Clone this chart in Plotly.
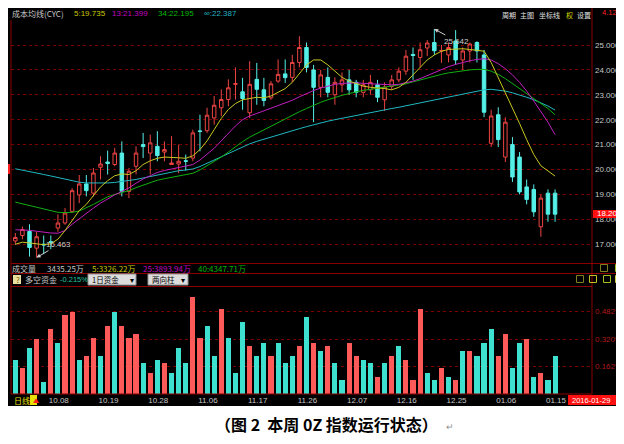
import plotly.graph_objects as go

W, H = 624, 444
def px(x): return x / W
def py(y): return 1 - y / H

# ---------------- data ----------------
idx = list(range(77))
opens = [17.13,17.35,17.51,16.84,17.00,17.10,17.65,17.85,18.32,18.98,
         19.42,19.05,20.09,20.30,20.20,20.66,19.12,20.13,21.00,20.66,
         20.93,20.70,20.20,20.22,20.35,20.46,21.55,21.56,22.07,22.48,
         22.81,23.42,23.12,22.28,23.62,23.20,22.88,23.55,23.84,23.70,
         24.30,24.90,24.00,23.30,23.70,23.00,23.40,23.60,23.50,23.10,
         23.20,23.40,22.80,23.34,23.60,23.95,24.62,24.50,24.88,25.10,
         24.76,24.60,25.16,24.40,24.76,25.10,24.60,21.05,22.20,20.50,
         21.00,20.50,19.30,19.20,17.70,19.05,19.05]
closes = [17.27,17.59,16.87,17.30,16.97,17.08,17.85,18.25,19.15,19.42,
          19.15,19.86,20.22,20.24,20.66,19.12,19.93,20.66,20.92,21.07,
          20.56,20.80,20.26,20.33,20.33,21.47,21.53,22.18,22.58,22.81,
          23.28,23.45,22.85,23.42,23.22,22.77,23.44,23.82,23.69,24.30,
          24.90,24.10,23.30,23.80,23.10,23.50,23.60,23.20,23.10,23.40,
          23.50,22.90,23.31,23.60,23.95,24.55,24.58,24.81,25.08,24.77,
          24.78,24.90,24.40,24.76,25.04,24.76,22.30,22.15,21.20,21.90,
          19.70,19.10,18.80,18.30,18.85,18.206,18.206]
highs = [17.45,17.71,17.80,17.50,17.35,17.35,18.20,18.45,19.25,19.78,
         19.78,20.06,20.53,20.76,20.87,21.13,20.06,20.93,21.47,21.40,
         21.54,21.13,21.34,21.00,20.60,21.60,22.20,22.48,22.95,23.22,
         23.62,24.10,23.68,24.35,24.28,23.68,23.55,24.42,24.42,24.60,
         25.35,25.10,24.20,24.00,24.10,23.70,23.90,24.00,23.60,23.60,
         23.80,23.60,23.50,23.80,24.10,24.80,24.90,25.10,25.20,25.642,
         25.00,25.10,25.60,24.90,25.10,25.15,24.80,22.40,22.50,22.10,
         21.30,20.70,19.60,19.40,19.00,19.20,19.20]
lows = [16.97,17.20,16.50,16.463,16.60,16.80,17.50,17.78,18.25,18.65,
        18.92,18.92,19.60,19.80,20.13,18.92,18.85,19.80,20.46,19.80,
        20.33,20.33,20.20,19.85,19.95,20.33,20.73,21.47,21.80,22.14,
        22.54,22.81,22.40,22.07,22.60,22.54,22.80,23.48,23.48,23.50,
        24.10,23.90,21.90,22.90,22.90,22.60,23.10,23.00,22.90,22.90,
        23.00,22.70,22.35,23.20,23.50,23.80,23.60,24.10,24.55,24.60,
        24.28,24.30,24.20,24.00,24.30,24.30,22.10,20.90,20.90,20.30,
        19.50,19.00,18.60,18.10,17.30,17.90,17.90]

ma5 = [17.00,17.08,17.05,17.03,16.98,17.02,17.20,17.55,17.95,18.35,
       18.60,18.95,19.30,19.55,19.75,19.82,19.80,19.95,20.20,20.35,
       20.45,20.50,20.50,20.47,20.45,20.55,20.80,21.15,21.60,22.05,
       22.41,22.65,22.80,22.85,22.90,22.88,22.95,23.10,23.25,23.50,
       23.85,24.20,24.40,24.40,24.20,23.95,23.70,23.55,23.45,23.35,
       23.30,23.28,23.25,23.20,23.30,23.50,23.80,24.10,24.40,24.60,
       24.75,24.82,24.85,24.85,24.82,24.80,24.75,24.30,23.70,23.10,
       22.50,21.85,21.20,20.60,20.15,19.95,19.735]
ma13 = [17.58,17.58,17.56,17.52,17.48,17.45,17.44,17.55,17.80,18.02,
        18.25,18.45,18.65,18.83,18.98,19.12,19.26,19.45,19.62,19.75,
        19.88,19.96,20.02,20.08,20.13,20.20,20.38,20.60,20.85,21.15,
        21.45,21.75,22.00,22.15,22.25,22.35,22.45,22.55,22.66,22.78,
        22.92,23.05,23.17,23.27,23.35,23.42,23.46,23.48,23.48,23.46,
        23.44,23.42,23.40,23.40,23.42,23.47,23.55,23.65,23.77,23.90,
        24.02,24.13,24.22,24.30,24.37,24.42,24.45,24.40,24.25,24.05,
        23.80,23.50,23.15,22.75,22.35,21.90,21.399]
ma34 = [18.69,18.62,18.55,18.48,18.40,18.33,18.28,18.27,18.28,18.33,
        18.45,18.60,18.75,18.90,19.00,19.08,19.15,19.27,19.38,19.48,
        19.57,19.63,19.68,19.73,19.78,19.85,19.98,20.15,20.32,20.50,
        20.70,20.92,21.12,21.30,21.45,21.58,21.72,21.88,22.03,22.18,
        22.32,22.45,22.58,22.70,22.80,22.90,22.98,23.05,23.12,23.18,
        23.22,23.26,23.30,23.34,23.38,23.44,23.52,23.60,23.68,23.76,
        23.82,23.88,23.93,23.97,24.00,24.02,24.02,23.95,23.82,23.65,
        23.45,23.25,23.05,22.85,22.65,22.45,22.195]
ma_inf = [20.03,19.98,19.92,19.86,19.80,19.74,19.67,19.60,19.54,19.49,
          19.46,19.45,19.45,19.46,19.48,19.51,19.55,19.60,19.66,19.72,
          19.80,19.86,19.91,19.95,19.98,20.02,20.12,20.25,20.40,20.53,
          20.66,20.80,20.92,21.03,21.13,21.22,21.31,21.40,21.48,21.56,
          21.64,21.72,21.80,21.87,21.94,22.00,22.06,22.12,22.18,22.24,
          22.30,22.35,22.40,22.45,22.50,22.56,22.62,22.68,22.74,22.80,
          22.86,22.92,22.98,23.04,23.10,23.15,23.20,23.22,23.20,23.15,
          23.08,23.00,22.90,22.80,22.68,22.55,22.387]

flow_vals = [0.20,0.15,0.27,0.32,0.07,0.38,0.30,0.46,0.48,0.20,
             0.22,0.33,0.22,0.40,0.48,0.40,0.33,0.35,0.18,0.12,
             0.20,0.18,0.12,0.27,0.18,0.57,0.33,0.40,0.22,0.50,
             0.33,0.12,0.42,0.28,0.22,0.30,0.22,0.30,0.18,0.22,
             0.28,0.45,0.30,0.25,0.28,0.18,0.08,0.30,0.22,0.20,
             0.18,0.10,0.18,0.22,0.28,0.20,0.08,0.50,0.12,0.08,
             0.15,0.10,0.08,0.25,0.25,0.22,0.30,0.38,0.22,0.35,
             0.15,0.30,0.32,0.10,0.12,0.08,0.22]
flow_sign = ["c","r","c","r","c","r","c","r","r","c",
             "r","r","c","r","c","r","r","r","c","r",
             "c","r","c","c","c","r","r","c","c","r",
             "c","c","c","r","c","c","r","c","c","c",
             "r","c","r","c","r","c","c","r","r","c",
             "c","r","c","r","c","r","r","r","c","c",
             "r","c","r","c","r","c","c","c","r","r",
             "c","c","r","c","r","c","c"]

tick_idx = [5, 12, 19, 26, 33, 40, 47, 54, 61, 68, 75]
tick_txt = ["10.08","10.19","10.28","11.06","11.17","11.26",
            "12.07","12.16","12.25","01.06","01.15"]
price_ticks = [17,18,19,20,21,22,23,24,25]
flow_ticks = [0.162, 0.320, 0.482]

RED = "#ee4444"
CYAN = "#54f0e8"
BAR_RED = "#ff5a5a"
BAR_CYAN = "#3ee0d0"
GRID = "#7a0000"
TXT = "#c8c8c8"
FONT = "Noto Sans CJK SC"
NUMF = "Liberation Sans"

fig = go.Figure()

for vals, col in [(ma_inf, "#20b8c0"), (ma34, "#10b010"), (ma13, "#c020c0"), (ma5, "#c8c820")]:
    fig.add_trace(go.Scatter(x=idx, y=vals, mode="lines",
                             line=dict(color=col, width=1),
                             xaxis="x", yaxis="y", hoverinfo="skip"))

fig.add_trace(go.Candlestick(
    x=idx, open=opens, high=highs, low=lows, close=closes,
    increasing=dict(line=dict(color=RED, width=1), fillcolor="black"),
    decreasing=dict(line=dict(color=CYAN, width=1), fillcolor=CYAN),
    whiskerwidth=0, xaxis="x", yaxis="y"))

fig.add_trace(go.Bar(
    x=idx, y=flow_vals,
    marker=dict(color=[BAR_RED if s == "r" else BAR_CYAN for s in flow_sign], line=dict(width=0)),
    width=0.72, xaxis="x2", yaxis="y2"))

xr = [-0.606, 81.2]
main_top, main_bot = 13, 252
p_top = 25 + (37 - main_top) / 24.9
p_bot = 25 - (main_bot - 37) / 24.9
low_top, low_bot = 283, 386
f_top = (low_bot - low_top) / 171.0

fig.update_layout(
    width=W, height=H, margin=dict(l=0, r=0, t=0, b=0),
    paper_bgcolor="white", plot_bgcolor="black", showlegend=False,
    bargap=0,
    font=dict(family=FONT, size=8, color=TXT),
    xaxis=dict(domain=[px(3), px(584)], range=xr, showgrid=False, zeroline=False,
               showticklabels=False, rangeslider=dict(visible=False), anchor="y"),
    yaxis=dict(domain=[py(main_bot), py(main_top)], range=[p_bot, p_top], side="right",
               tickvals=price_ticks, tickformat=".3f", showgrid=True, gridcolor=GRID,
               griddash="dot", gridwidth=1, zeroline=False, ticks="",
               tickfont=dict(family=NUMF, size=8, color=TXT),
               ticklabelstandoff=2, anchor="x"),
    xaxis2=dict(domain=[px(3), px(584)], range=xr, showgrid=False, zeroline=False,
                tickvals=tick_idx, ticktext=tick_txt, ticks="", ticklabelshift=8,
                tickfont=dict(family=NUMF, size=8, color=TXT),
                ticklabelstandoff=0, anchor="y2"),
    yaxis2=dict(domain=[py(low_bot), py(low_top)], range=[0, f_top], side="right",
                tickvals=flow_ticks, ticktext=[f"{v:.3f}%" for v in flow_ticks],
                showgrid=True, gridcolor=GRID, griddash="dot", zeroline=False, ticks="",
                tickfont=dict(family=NUMF, size=8, color="#b01818"),
                ticklabelstandoff=2, anchor="x2"),
)

shapes = []
shapes.append(dict(type="rect", xref="paper", yref="paper", x0=0, x1=px(622), y0=py(398), y1=1,
                   fillcolor="black", line=dict(width=0), layer="below"))
DR = "#8a0000"
def hline(y, x0=3, x1=621, c=DR):
    shapes.append(dict(type="line", xref="paper", yref="paper", x0=px(x0), x1=px(x1),
                       y0=py(y), y1=py(y), line=dict(color=c, width=1)))
def vline(x, y0, y1, c=DR):
    shapes.append(dict(type="line", xref="paper", yref="paper", x0=px(x), x1=px(x),
                       y0=py(y0), y1=py(y1), line=dict(color=c, width=1)))
hline(255.5); hline(265.5); hline(278.5, 3, 584)
vline(3, 12, 386); vline(584, 0, 386); vline(620, 255, 398)
hline(386, 3, 584)
shapes.append(dict(type="line", xref="paper", yref="paper", x0=px(1), x1=px(1), y0=py(156), y1=py(166),
                   line=dict(color="#ff2020", width=2)))
shapes.append(dict(type="rect", xref="paper", yref="paper", x0=px(585), x1=px(621), y0=py(210), y1=py(202),
                   fillcolor="#ff1010", line=dict(width=0)))
shapes.append(dict(type="rect", xref="paper", yref="paper", x0=px(560), x1=px(620), y0=py(397), y1=py(387),
                   fillcolor="#ff1010", line=dict(width=0)))
shapes.append(dict(type="rect", xref="paper", yref="paper", x0=px(22), x1=px(29), y0=py(397), y1=py(387),
                   fillcolor="#e8e000", line=dict(width=0)))
shapes.append(dict(type="rect", xref="paper", yref="paper", x0=px(5), x1=px(13), y0=py(276), y1=py(267),
                   fillcolor="#e8e0a0", line=dict(width=0)))
for x0, x1 in [(80, 128), (140, 180)]:
    shapes.append(dict(type="rect", xref="paper", yref="paper", x0=px(x0), x1=px(x1), y0=py(277), y1=py(266),
                       fillcolor="#dcdcdc", line=dict(color="#909090", width=1)))
for (x, y, c) in [(596, 260, "#808020"), (611, 260, "#a0c020"),
                  (572, 271, "#808020"), (585, 271, "#c0c020"), (599, 271, "#a0c020"), (611, 271, "#d0d040")]:
    shapes.append(dict(type="rect", xref="paper", yref="paper", x0=px(x - 3.5), x1=px(x + 3.5),
                       y0=py(y + 3.5), y1=py(y - 3.5), line=dict(color=c, width=1), fillcolor="rgba(0,0,0,0)"))
fig.update_layout(shapes=shapes)

ann = []
def txt(x, y, s, color=TXT, size=8, anchor="left", family=FONT, bold=False):
    ann.append(dict(xref="paper", yref="paper", x=px(x), y=py(y), text=("<b>%s</b>" % s) if bold else s,
                    showarrow=False, xanchor=anchor, yanchor="middle",
                    font=dict(color=color, size=size, family=family)))

txt(2, 6, "成本均线(CYC)", TXT, 8)
txt(64, 6, "5:%.3f" % ma5[-1], "#c8c800", 8, family=NUMF)
txt(102, 6, "13:%.3f" % ma13[-1], "#c000c0", 8, family=NUMF)
txt(148, 6, "34:%.3f" % ma34[-1], "#00b800", 8, family=NUMF)
txt(194, 6, "∞:%.3f" % ma_inf[-1], "#20b0c0", 8, family=NUMF)
txt(492, 7, "周期", "#e0e0e0", 7)
txt(510, 7, "主图", "#e0e0e0", 7)
txt(529, 7, "坐标线", "#e0e0e0", 7)
txt(556, 7, "权", "#d8d800", 7)
txt(567, 7, "设置", "#e0e0e0", 7)
txt(592, 5, "4.12%", "#ff2020", 7.5, family=NUMF)
txt(2, 260.5, "成交量", TXT, 8)
txt(37, 260.5, "3435.25万", TXT, 8)
txt(82, 260.5, "5:3326.22万", "#c8c800", 8)
txt(133, 260.5, "25:3893.94万", "#c000c0", 8)
txt(188, 260.5, "40:4347.71万", "#00b800", 8)
txt(6, 271.5, "?", "#805000", 8)
txt(15, 271.5, "多空资金", TXT, 8)
txt(50, 271.5, "-0.215%", "#20c0a0", 7.5, family=NUMF)
txt(82, 271.5, "1日资金", "black", 7.5)
txt(120, 271.5, "▾", "black", 8)
txt(142, 271.5, "两向柱", "black", 7.5)
txt(171, 271.5, "▾", "black", 8)
txt(4, 392, "日线", "#e8e000", 8)
txt(23, 392, "▲", "#ff2020", 6)
txt(562, 392, "2016-01-29", "white", 7.5, family=NUMF)
txt(607, 392, "五", "white", 8)
txt(587, 206, "18.206", "white", 8, family=NUMF)
NB = "\u00a0"
txt(318, 416, "（图" + NB + "2" + NB + NB + "本周" + NB + "0Z" + NB + "指数运行状态）", "black", 16,
    anchor="center", bold=True)
txt(436, 418, "↵", "#909090", 9)

ann.append(dict(xref="x", yref="y", x=3, y=16.463, ax=22, ay=-13, text="16.463",
                showarrow=True, arrowhead=2, arrowsize=0.8, arrowwidth=1, arrowcolor="#d0d0d0",
                font=dict(color="#d0d0d0", size=8, family=NUMF), xanchor="center"))
ann.append(dict(xref="x", yref="y", x=59, y=25.642, ax=22, ay=12, text="25.642",
                showarrow=True, arrowhead=2, arrowsize=0.8, arrowwidth=1, arrowcolor="#d0d0d0",
                font=dict(color="#d0d0d0", size=8, family=NUMF), xanchor="center"))
fig.update_layout(annotations=ann)

fig.write_html("out.html")
